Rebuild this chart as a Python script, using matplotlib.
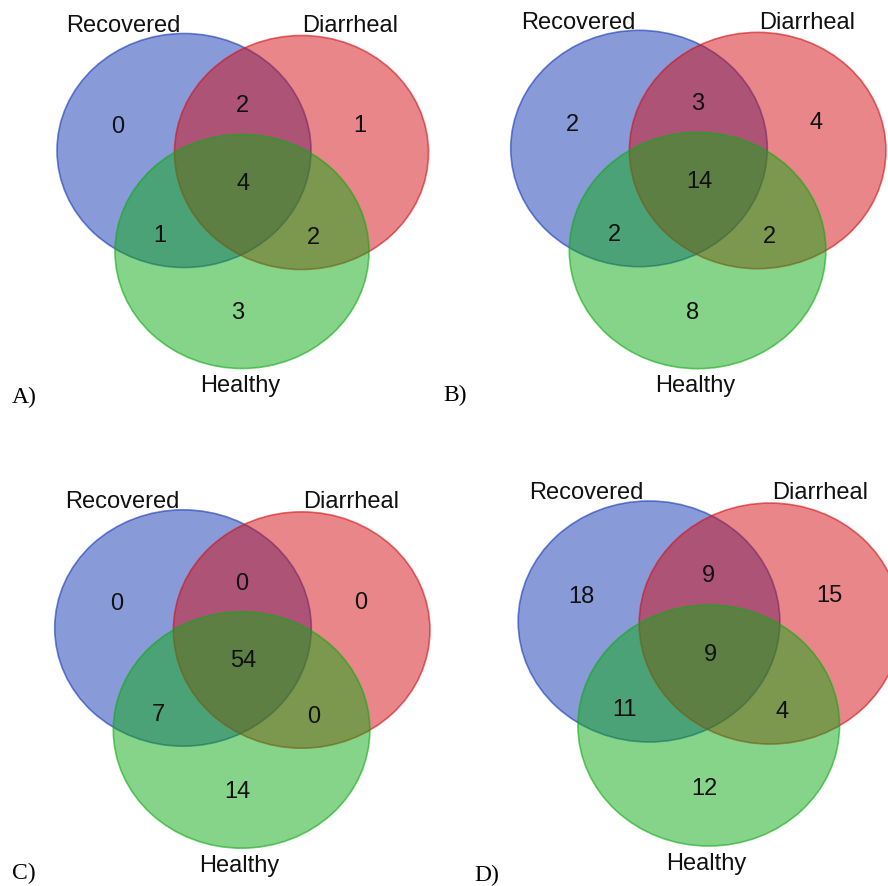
import numpy as np
import matplotlib
matplotlib.use('Agg')
import matplotlib.pyplot as plt
from matplotlib.patches import Ellipse

# Set names and region counts
# order: R only, R&D, D only, R&D&H, R&H, D&H, H only
set_names = ['Recovered', 'Diarrheal', 'Healthy']
panel_letters = ['A)', 'B)', 'C)', 'D)']
counts_a = [0, 2, 1, 4, 1, 2, 3]
counts_b = [2, 3, 4, 14, 2, 2, 8]
counts_c = [0, 0, 0, 54, 7, 0, 14]
counts_d = [18, 9, 15, 9, 11, 4, 12]
all_counts = [counts_a, counts_b, counts_c, counts_d]

# layout (pixels): blue circle centre and scale of each panel
anchors = [(184, 151.5), (639, 149.5), (183, 629), (649, 622.5)]
scales = [1.0, 1.01, 1.01, 1.03]
letter_pos = [(12, 397), (443, 395), (12, 873), (474, 875)]

# geometry relative to the blue circle centre
circle_off = [(0, 0), (117.5, 2), (58, 101)]
rx, ry = 127, 117
fills = [(20/255, 55/255, 180/255), (210/255, 15/255, 20/255), (15/255, 170/255, 20/255)]
count_off = [(-66, -24.5), (58, -45), (175.5, -26), (59.5, 32), (-24, 85), (129, 87), (53.5, 161.5)]
label_off = [(-60.5, -125.5), (166, -125.5), (56, 234.5)]

fig = plt.figure(figsize=(8.88, 8.87), dpi=100)
ax = fig.add_axes([0, 0, 1, 1])
ax.set_xlim(0, 888)
ax.set_ylim(887, 0)
ax.axis('off')

for k in range(4):
    bx, by = anchors[k]
    s = scales[k]
    for (dx, dy), c in zip(circle_off, fills):
        ax.add_patch(Ellipse((bx + dx * s, by + dy * s), 2 * rx * s, 2 * ry * s,
                             facecolor=c, alpha=0.5, edgecolor='none'))
        ax.add_patch(Ellipse((bx + dx * s, by + dy * s), 2 * rx * s, 2 * ry * s,
                             facecolor='none', edgecolor=c, alpha=0.6, lw=1.2))
    for (dx, dy), n in zip(count_off, all_counts[k]):
        ax.text(bx + dx * s, by + dy * s, str(n), ha='center', va='center',
                fontsize=17, family='Liberation Sans', color='#111111')
    for (dx, dy), name in zip(label_off, set_names):
        ax.text(bx + dx * s, by + dy * s, name, ha='center', va='center',
                fontsize=17, family='Liberation Sans', color='#111111')
    lx, ly = letter_pos[k]
    ax.text(lx, ly, panel_letters[k], ha='left', va='center',
            fontsize=17, family='Liberation Serif', color='black')

fig.savefig('out.png', dpi=100)
